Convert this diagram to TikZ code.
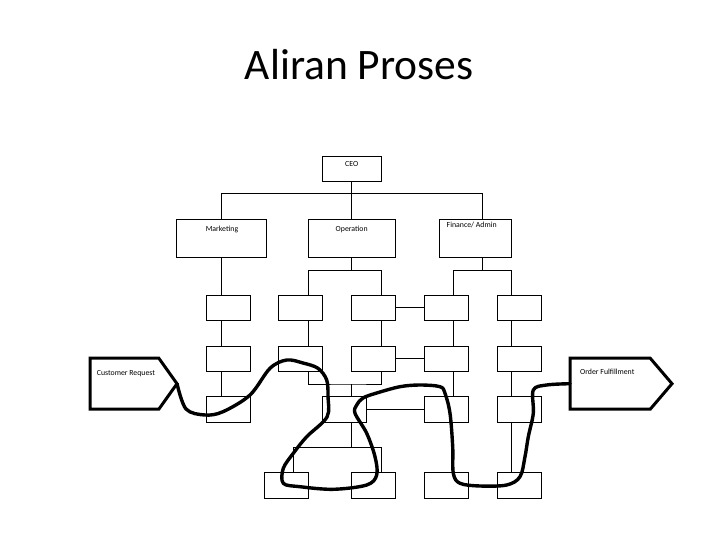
\documentclass[tikz,border=0pt]{standalone}
\usepackage{fontspec}
\setmainfont{Carlito}
\usetikzlibrary{shapes.symbols}

\begin{document}
\begin{tikzpicture}[
  x=1bp, y=-1bp,
  box/.style={draw=black, line width=0.9bp, inner sep=0pt, outer sep=0pt,
              minimum width=44bp, minimum height=25.5bp},
  unit/.style={box, minimum height=38bp},
  tag/.style={draw=black, line width=3bp, signal, signal to=east,
              inner sep=0pt, outer sep=0pt, minimum height=51bp},
  lbl/.style={font=\fontsize{7.8bp}{9bp}\selectfont, inner sep=0pt},
  link/.style={line width=0.9bp},
  freehand/.style={line width=3.4bp, line cap=round, line join=round}
]
  \useasboundingbox (0,0) rectangle (720,540);

  % Title
  \node[font=\fontsize{43.5bp}{50bp}\selectfont, inner sep=0pt, anchor=base]
    (title) at (359.2,80) {Aliran Proses};

  % Level 1: CEO and units
  \node[box, minimum width=58.7bp] (ceo) at (351.7,168.9) {};
  \node[unit, minimum width=90bp]   (mkt) at (221.7,238.3) {};
  \node[unit, minimum width=86.7bp] (ope) at (351.7,238.3) {};
  \node[unit, minimum width=71.7bp] (fin) at (475.2,238.3) {};

  % Level 2: task boxes, rows 1 and 2
  \foreach \row/\y in {1/307.7, 2/358.7} {
    \node[box] (a\row) at (228.5,\y) {};
    \node[box] (b\row) at (300.8,\y) {};
    \node[box] (c\row) at (373.3,\y) {};
    \node[box] (d\row) at (446.3,\y) {};
    \node[box] (e\row) at (519.3,\y) {};
  }

  % Row 3
  \node[box] (a3) at (228.5,409.2) {};
  \node[box] (b3) at (344.5,409.2) {};
  \node[box] (d3) at (446.3,409.2) {};
  \node[box] (e3) at (519.3,409.2) {};

  % Row 4
  \node[box] (f4) at (286.3,485.3) {};
  \node[box] (g4) at (373.5,485.3) {};
  \node[box] (d4) at (446.5,485.3) {};
  \node[box] (e4) at (519.3,485.3) {};

  % Start and end of the flow
  \node[tag, minimum width=87bp, signal pointer angle=109, anchor=west]
    (cust) at (90,383.7) {};
  \node[tag, minimum width=102bp, signal pointer angle=99, anchor=west]
    (order) at (570,383.7) {};

  % Labels
  \node[lbl, anchor=base] (ceotxt) at (351.7,166.7) {CEO};
  \node[lbl, anchor=base] (mkttxt) at (222,232) {Marketing};
  \node[lbl, anchor=base] (opetxt) at (351.7,232) {Operation};
  \node[lbl, anchor=base] (fintxt) at (471.7,227.3) {Finance/ Admin};
  \node[lbl, anchor=base west] (custtxt) at (96.7,375) {Customer Request};
  \node[lbl, anchor=base west] (ordertxt) at (580,374.3) {Order Fulfillment};

  % Line columns
  \coordinate (cB) at (308.7,0);
  \coordinate (cC) at (381.7,0);
  \coordinate (cD) at (453.7,0);
  \coordinate (cE) at (511.7,0);
  \coordinate (cF) at (482.5,0);
  \coordinate (cG) at (293.3,0);

  % CEO to units
  \draw[link] (ceo.south) -- ++(0,12.3) coordinate (j0);
  \draw[link] (mkt.north) |- (j0) -| (fin.north -| cF);
  \draw[link] (j0) -- (ope.north);

  % Units to row 1
  \draw[link] (mkt.south) -- (a1.north -| mkt);
  \draw[link] (ope.south) -- ++(0,13.4) coordinate (j1);
  \draw[link] (b1.north -| cB) |- (j1) -| (c1.north -| cC);
  \draw[link] (fin.south -| cF) -- ++(0,13.4) coordinate (j2);
  \draw[link] (d1.north -| cD) |- (j2) -| (e1.north -| cE);

  % Row 1 to row 2
  \draw[link] (a1.south -| mkt) -- (a2.north -| mkt);
  \draw[link] (b1.south -| cB) -- (b2.north -| cB);
  \draw[link] (c1.south -| cC) -- (c2.north -| cC);
  \draw[link] (d1.south -| cD) -- (d2.north -| cD);
  \draw[link] (e1.south -| cE) -- (e2.north -| cE);
  \draw[link] (c1) -- (d1);
  \draw[link] (c2) -- (d2);

  % Row 2 to row 3
  \draw[link] (a2.south -| mkt) -- (a3.north -| mkt);
  \coordinate (j3) at (351.7,384);
  \draw[link] (b2.south -| cB) |- (j3) -| (c2.south -| cC);
  \draw[link] (j3) -- (b3.north -| j3);
  \draw[link] (d2.south -| cD) -- (d3.north -| cD);
  \draw[link] (e2.south -| cE) -- (e3.north -| cE);
  \draw[link] (b3) -- (d3);

  % Row 3 to row 4
  \draw[link] (b3.south -| j3) -- ++(0,25.4) coordinate (j4);
  \draw[link] (f4.north -| cG) |- (j4) -| (g4.north -| cC);
  \draw[link] (e3.south -| cE) -- (e4.north -| cE);

  % Hand-drawn flow
  \draw[freehand] plot[smooth, tension=0.55] coordinates {
    (cust.east) (186,409) (205,415) (223,411.7) (250,395) (270,368.3)
    (286.7,360) (303,363) (318,368.3) (326.7,380) (328,396.7) (327,417)
    (306.7,436.7) (293.3,453.3) (283.3,468.3) (283.3,483.3) (300,486.7)
    (333.3,489.3) (366.7,485) (376.7,475) (375,456.7) (366.7,433.3)
    (355,413.3) (356.7,405) (363,398) (376.7,393) (400,386.7) (420,385)
    (440,386.7) (445,393.3) (450,413.3) (452.7,446.7) (453.3,473.3)
    (460,483.3) (480,486) (506.7,485) (520,476.7) (525,456.7)
    (528.3,436.7) (533.3,413.3) (533.3,390) (546.7,385) (order.west)};
\end{tikzpicture}
\end{document}
